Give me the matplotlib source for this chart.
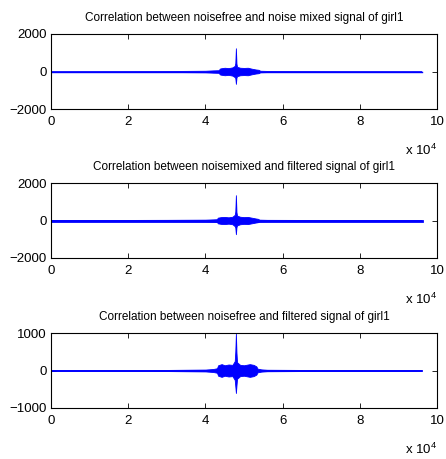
import numpy as np
import matplotlib.pyplot as plt

# correlation envelopes, lag in samples (x 1e4 below), amplitude upper / lower
titles = [
    "Correlation between noisefree and noise mixed signal of girl1",
    "Correlation between noisemixed and filtered signal of girl1",
    "Correlation between noisefree and filtered signal of girl1",
]

lag1 = [0, 2.0, 3.0, 4.0, 4.2, 4.35, 4.37, 4.4, 4.5, 4.6, 4.7, 4.76, 4.775, 4.79, 4.805, 4.82,
        4.9, 5.0, 5.1, 5.2, 5.3, 5.38, 5.42, 5.6, 6.5, 7.5, 9.6]
up1 = [0, 15, 25, 40, 60, 70, 150, 170, 200, 180, 220, 300, 450, 1240, 420, 250,
       200, 190, 200, 150, 110, 90, 40, 30, 20, 10, 0]
lo1 = [0, -15, -25, -40, -60, -70, -150, -170, -200, -180, -220, -300, -350, -660, -330, -250,
       -200, -190, -200, -150, -110, -90, -40, -30, -20, -10, 0]

lag2 = [0, 2.0, 3.0, 4.0, 4.2, 4.3, 4.32, 4.4, 4.5, 4.6, 4.7, 4.76, 4.775, 4.79, 4.805, 4.82,
        4.9, 5.0, 5.1, 5.2, 5.3, 5.36, 5.4, 5.6, 6.5, 7.5, 9.6]
up2 = [20, 30, 35, 45, 60, 70, 150, 180, 190, 170, 200, 300, 480, 1350, 450, 260,
       200, 180, 190, 150, 110, 90, 45, 35, 30, 25, 20]
lo2 = [-20, -30, -35, -45, -60, -70, -150, -180, -190, -170, -200, -300, -380, -730, -360, -260,
       -200, -180, -190, -150, -110, -90, -45, -35, -30, -25, -20]

lag3 = [0, 2.0, 3.0, 4.0, 4.2, 4.3, 4.33, 4.42, 4.5, 4.6, 4.7, 4.76, 4.775, 4.79, 4.805, 4.82,
        4.9, 5.0, 5.15, 5.25, 5.32, 5.35, 5.45, 5.6, 6.5, 7.5, 9.6]
up3 = [0, 10, 15, 25, 40, 60, 140, 170, 140, 160, 150, 250, 510, 980, 480, 220,
       150, 140, 170, 150, 110, 50, 30, 20, 15, 10, 0]
lo3 = [0, -10, -15, -25, -40, -60, -140, -170, -140, -160, -150, -250, -420, -600, -400, -220,
       -150, -140, -170, -150, -110, -50, -30, -20, -15, -10, 0]

ylims = [2000, 2000, 1000]
base_lw = [1.0, 2.0, 1.3]

plt.rcParams["font.family"] = ["Liberation Sans", "DejaVu Sans"]
plt.rcParams["mathtext.default"] = "regular"

fig = plt.figure(figsize=(4.46, 4.59), dpi=100)
boxes = [(51, 34, 109), (51, 183, 258), (51, 333, 408)]
W, H = 446.0, 459.0

data = [(lag1, up1, lo1), (lag2, up2, lo2), (lag3, up3, lo3)]
for i, (left, top, bot) in enumerate(boxes):
    ax = fig.add_axes([left / W, 1 - bot / H, 386 / W, (bot - top) / H])
    lag, up, lo = data[i]
    x = np.array(lag) * 1e4
    ax.fill_between(x, lo, up, color="blue", lw=0.6, edgecolor="blue")
    ax.plot(x, np.zeros_like(x), color="blue", lw=base_lw[i])
    ax.set_xlim(0, 1e5)
    ax.set_ylim(-ylims[i], ylims[i])
    ax.set_xticks(np.arange(0, 10.1, 2) * 1e4)
    ax.set_xticklabels(["0", "2", "4", "6", "8", "10"])
    ax.set_yticks([-ylims[i], 0, ylims[i]])
    ax.set_yticklabels(["\u2212%d" % ylims[i], "0", "%d" % ylims[i]])
    ax.tick_params(direction="in", top=True, right=True, length=3.5,
                   width=0.6, labelsize=9.5)
    ax.tick_params(axis="x", pad=5)
    ax.tick_params(axis="y", pad=3)
    for s in ax.spines.values():
        s.set_linewidth(0.8)
    ax.set_title(titles[i], fontsize=8.5, pad=9.5)
    ax.text(1.0, -0.55, r"x 10$^{4}$", transform=ax.transAxes,
            ha="right", va="center", fontsize=9.5)

fig.savefig("out.png", dpi=100)
